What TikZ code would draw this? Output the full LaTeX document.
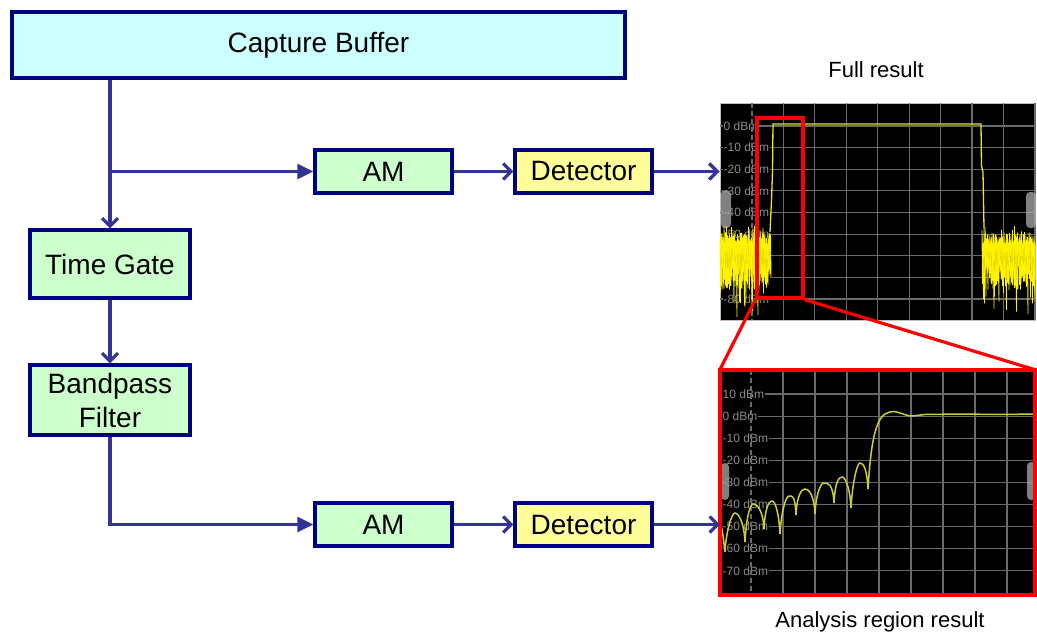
\documentclass[tikz,border=0pt]{standalone}
\usepackage{fontspec}
\setmainfont{Liberation Sans}
\usetikzlibrary{arrows.meta,positioning}
\definecolor{navy}{HTML}{000080}
\definecolor{wire}{HTML}{333399}
\definecolor{cyanfill}{HTML}{CCFFFF}
\definecolor{greenfill}{HTML}{CCFFCC}
\definecolor{yellowfill}{HTML}{FFFF99}
\definecolor{gridgray}{HTML}{6A6A6A}
\definecolor{labelgray}{HTML}{8C8C8C}
\definecolor{traceA}{HTML}{E6E62A}
\definecolor{traceB}{HTML}{CDCD3C}

\begin{document}
\begin{tikzpicture}[x=1pt,y=-1pt,node distance=200pt,on grid,
    block/.style={draw=navy,line width=3.4pt,inner sep=0pt,align=center,
      font=\fontsize{28}{34}\selectfont},
    flow/.style={draw=wire,line width=3.2pt},
    open/.style={-{Straight Barb[length=8pt,width=16pt]}},
    tri/.style={-{Triangle[length=16pt,width=15pt]}},
    screen/.style={fill=black,inner sep=0pt,minimum width=315pt},
    grid/.style={draw=gridgray,line width=1.2pt},
    dbm/.style={anchor=west,inner sep=0.5pt,fill=black,text=labelgray,
      font=\fontsize{12}{12}\selectfont},
    caption/.style={font=\fontsize{22}{24}\selectfont},
    noise/.style={draw=yellow,line width=0.9pt},
    handle/.style={fill=gray!65,opacity=0.75,rounded corners=4pt}]
  \useasboundingbox (0,0) rectangle (1037,635);

  % blocks
  \node[block,fill=cyanfill,minimum width=613pt,minimum height=66pt] (cb) at (318.5,45) {Capture Buffer};
  \node[block,fill=greenfill,minimum width=137pt,minimum height=43pt] (am_1) at (383.5,171.5) {AM};
  \node[block,fill=yellowfill,minimum width=137pt,minimum height=43pt] (det_1) [right=of am_1] {Detector};
  \node[block,fill=greenfill,minimum width=160pt,minimum height=68pt] (tg) at (110,264) {Time Gate};
  \node[block,fill=greenfill,minimum width=160pt,minimum height=70pt] (bpf) at (110,400) {Bandpass\\Filter};
  \node[block,fill=greenfill,minimum width=137pt,minimum height=43pt] (am_2) at (383.5,524.5) {AM};
  \node[block,fill=yellowfill,minimum width=137pt,minimum height=43pt] (det_2) [right=of am_2] {Detector};

  % screens
  \node[screen,minimum height=217pt,draw=gray!50,line width=1pt] (full) at (877.5,211.5) {};
  \node[screen,minimum height=225pt] (zoom) at (877.5,482.5) {};
  \node[caption] (full_lbl) at (876,70) {Full result};
  \node[caption] (zoom_lbl) at (880,622) {Analysis region result};

  % full result
  \foreach \i in {0,...,8}
    \draw[grid] (720,126+21.63*\i) -- (1035,126+21.63*\i);
  \foreach \v [count=\i from 0] in {0,-10,...,-80}
    \node[dbm] at (723,126+21.63*\i) {\v\ dBm};
  \draw[grid,dash pattern=on 5pt off 3pt] (752,103) -- (752,320);
  \foreach \i in {1,...,9}
    \draw[grid] (752+31.44*\i,103) -- (752+31.44*\i,320);
  \fill[handle] (721,190) rectangle (731,228);
  \fill[handle] (1026,192) rectangle (1036,228);
  \begin{scope}
    \clip (full.south west) rectangle (full.north east);
    \pgfmathsetseed{12}
    \foreach \x in {720,720.5,...,770.5} {
      \pgfmathsetmacro\yt{rnd>0.9 ? 226+6*rnd : 232+12*rnd}
      \pgfmathsetmacro\yb{rnd>0.9 ? 292+26*rnd : 266+24*rnd}
      \draw[noise] (\x,\yt) -- (\x+0.5,\yb);
    }
    \foreach \x in {982,982.5,...,1035} {
      \pgfmathsetmacro\yt{rnd>0.9 ? 226+6*rnd : 232+12*rnd}
      \pgfmathsetmacro\yb{rnd>0.9 ? 292+26*rnd : 266+24*rnd}
      \draw[noise] (\x,\yt) -- (\x+0.5,\yb);
    }
    \draw[traceA,line width=1.3pt] (770,232) -- (771.5,200) -- (772.5,172) -- (773,124)
      -- (981,124) -- (981.5,166) -- (983,172) -- (984,228);
  \end{scope}
  \node[draw=red,line width=3.2pt,inner sep=0pt,minimum width=46pt,minimum height=180pt] (roi) at (780,208) {};

  % analysis region result
  \foreach \i in {0,...,8}
    \draw[grid] (720,394+22.1*\i) -- (1035,394+22.1*\i);
  \foreach \v [count=\i from 0] in {10,0,...,-70}
    \node[dbm] at (722,394+22.1*\i) {\v\ dBm};
  \draw[grid,dash pattern=on 5pt off 3pt] (751,370) -- (751,595);
  \foreach \i in {1,...,8}
    \draw[grid] (751+32*\i,370) -- (751+32*\i,595);
  \fill[handle] (721,463) rectangle (729,500);
  \fill[handle] (1027,462) rectangle (1036,500);
  \begin{scope}
    \clip (zoom.south west) rectangle (zoom.north east);
    \draw[traceB,line width=1.5pt] (721,524) .. controls (723,535) .. (725,552)
      foreach \xp/\yp/\xb/\yb in {735/513/745/542, 753/504/764/529, 772/501/780/534,
        789/496/796/515, 805/489/815/514, 824/483/834/503, 842/477/851/508, 860/463/868/489}
      { .. controls +(1,-20) and +(-3.5,0) .. (\xp,\yp) .. controls +(3.5,0) and +(-1,-20) .. (\xb,\yb) }
      .. controls (871,440) and (876,414) .. (890,412) .. controls (898,410) and (904,416) .. (912,416)
      -- (925,414.5) -- (960,414) -- (1000,414.5) -- (1037,414);
  \end{scope}
  \draw[red,line width=3.8pt] (zoom.south west) rectangle (zoom.north east);
  \draw[red,line width=3.2pt] (roi.south west) -- (zoom.north west)
    (roi.south east) -- (zoom.north east);

  % connectors
  \path (tg.north |- am_1.west) coordinate (split);
  \draw[flow,open] (tg.north |- cb.south) -- (tg.north);
  \draw[flow,tri] (split) -- (am_1);
  \draw[flow,open] (am_1) -- (det_1);
  \draw[flow,open] (det_1) -- (det_1 -| full.west);
  \draw[flow,open] (tg) -- (bpf);
  \draw[flow,tri] (bpf) |- (am_2);
  \draw[flow,open] (am_2) -- (det_2);
  \draw[flow,open] (det_2) -- (det_2 -| zoom.west);
\end{tikzpicture}
\end{document}
